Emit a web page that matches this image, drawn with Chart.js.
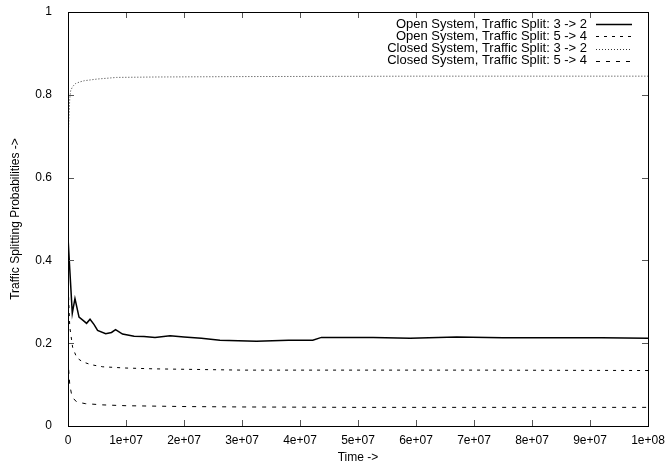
<!DOCTYPE html>
<html>
<head>
<meta charset="utf-8">
<script src="https://cdn.jsdelivr.net/npm/chart.js@4/dist/chart.umd.min.js"></script>
<style>
  body { margin: 0; background: #fff; }
  canvas { display: block; }
</style>
</head>
<body>
<canvas id="chart" width="667" height="465"></canvas>
<script>
"use strict";

// values (time, probability)
const openA_t = [0, 0.3e6, 0.74e6, 1.2e6, 1.9e6, 2.6e6, 3.2e6, 3.8e6, 4.5e6, 5.1e6, 6.5e6, 7.5e6, 8.2e6, 9.4e6, 1.14e7, 1.31e7, 1.5e7, 1.76e7, 2.0e7, 2.3e7, 2.62e7, 3.25e7, 3.8e7, 4.22e7, 4.37e7, 5.26e7, 5.9e7, 6.7e7, 7.5e7, 8.1e7, 9.2e7, 1e8];
const openA_v = [0.456, 0.38, 0.272, 0.308, 0.263, 0.255, 0.248, 0.258, 0.245, 0.231, 0.223, 0.226, 0.233, 0.222, 0.217, 0.216, 0.214, 0.218, 0.215, 0.212, 0.207, 0.205, 0.207, 0.207, 0.214, 0.214, 0.212, 0.215, 0.213, 0.213, 0.213, 0.212];

const openB_t = [0, 0.3e6, 0.8e6, 1.5e6, 2.5e6, 4e6, 6e6, 1e7, 1.5e7, 2e7, 3e7, 5e7, 7e7, 1e8];
const openB_v = [0.35, 0.24, 0.19, 0.165, 0.155, 0.148, 0.143, 0.140, 0.138, 0.137, 0.135, 0.135, 0.135, 0.134];

const closedA_t = [0, 0.15e6, 0.3e6, 0.46e6, 0.8e6, 1.3e6, 2e6, 2.8e6, 5e6, 8.4e6, 1.5e7, 3e7, 6e7, 1e8];
const closedA_v = [0.685, 0.74, 0.79, 0.81, 0.82, 0.827, 0.831, 0.834, 0.838, 0.842, 0.843, 0.844, 0.845, 0.845];

const closedB_t = [0, 0.3e6, 0.7e6, 1.5e6, 3e6, 6e6, 1e7, 2e7, 3e7, 5e7, 1e8];
const closedB_v = [0.16, 0.1, 0.07, 0.058, 0.054, 0.051, 0.049, 0.047, 0.046, 0.045, 0.045];

const seriesLabels = [
  "Open System, Traffic Split: 3 -> 2",
  "Open System, Traffic Split: 5 -> 4",
  "Closed System, Traffic Split: 3 -> 2",
  "Closed System, Traffic Split: 5 -> 4",
];

const xTicks = [0, 1e7, 2e7, 3e7, 4e7, 5e7, 6e7, 7e7, 8e7, 9e7, 1e8];
const yTicks = [0, 0.2, 0.4, 0.6, 0.8, 1];

const FONT = "'Liberation Sans', Arial, Helvetica, sans-serif";

const toPoints = (ts, vs) => ts.map((t, i) => ({ x: t, y: vs[i] }));

const fmtX = function (v) {
  if (v === 0) return "0";
  const e = Math.floor(Math.log10(v) + 1e-9);
  const m = Math.round(v / Math.pow(10, e));
  return m + "e+" + String(e).padStart(2, "0");
};

// gnuplot style frame with ticks pointing inward, on all four sides
const framePlugin = {
  id: "frame",
  afterDatasetsDraw(chart) {
    const { ctx, chartArea: a, scales } = chart;
    ctx.save();
    ctx.strokeStyle = "#555";
    ctx.lineWidth = 1;
    const len = 6;
    ctx.beginPath();
    xTicks.forEach((t) => {
      const px = Math.round(scales.x.getPixelForValue(t)) + 0.5;
      ctx.moveTo(px, a.bottom);
      ctx.lineTo(px, a.bottom - len);
      ctx.moveTo(px, a.top);
      ctx.lineTo(px, a.top + len);
    });
    yTicks.forEach((t) => {
      const py = Math.round(scales.y.getPixelForValue(t)) + 0.5;
      ctx.moveTo(a.left, py);
      ctx.lineTo(a.left + len, py);
      ctx.moveTo(a.right, py);
      ctx.lineTo(a.right - len, py);
    });
    ctx.stroke();
    ctx.strokeStyle = "#000";
    ctx.strokeRect(Math.round(a.left) + 0.5, Math.round(a.top) + 0.5,
      Math.round(a.right - a.left), Math.round(a.bottom - a.top));
    ctx.restore();
  },
  afterDraw(chart) {
    // key in the top right corner, text right aligned, sample to the right
    const { ctx, chartArea: a } = chart;
    ctx.save();
    ctx.font = "13px " + FONT;
    ctx.textAlign = "right";
    ctx.textBaseline = "middle";
    ctx.fillStyle = "#000";
    chart.data.datasets.forEach((ds, i) => {
      const y = a.top + 12 + i * 12.3;
      ctx.fillText(ds.label, a.right - 61, y);
      ctx.beginPath();
      ctx.strokeStyle = ds.borderColor;
      ctx.lineWidth = ds.borderWidth;
      ctx.setLineDash(ds.borderDash || []);
      ctx.moveTo(a.right - 52, Math.round(y) + 0.5);
      ctx.lineTo(a.right - 16, Math.round(y) + 0.5);
      ctx.stroke();
    });
    ctx.restore();
  },
};

const ctx = document.getElementById("chart").getContext("2d");
new Chart(ctx, {
  type: "line",
  data: {
    datasets: [
      {
        label: seriesLabels[0],
        data: toPoints(openA_t, openA_v),
        borderColor: "#000",
        borderWidth: 1.5,
      },
      {
        label: seriesLabels[1],
        data: toPoints(openB_t, openB_v),
        borderColor: "#000",
        borderWidth: 1,
        borderDash: [3, 5],
      },
      {
        label: seriesLabels[2],
        data: toPoints(closedA_t, closedA_v),
        borderColor: "#333",
        borderWidth: 1,
        borderDash: [1, 2],
      },
      {
        label: seriesLabels[3],
        data: toPoints(closedB_t, closedB_v),
        borderColor: "#000",
        borderWidth: 1,
        borderDash: [4, 6],
      },
    ],
  },
  options: {
    responsive: false,
    animation: false,
    elements: { point: { radius: 0 }, line: { tension: 0 } },
    layout: { padding: { left: 0, right: 19, top: 12, bottom: 0 } },
    plugins: { legend: { display: false }, tooltip: { enabled: false } },
    scales: {
      x: {
        type: "linear",
        min: 0,
        max: 1e8,
        afterFit: (s) => {
          s.height = 39;
          s.paddingLeft = 0;
          s.paddingRight = 0;
        },
        afterBuildTicks: (s) => { s.ticks = xTicks.map((v) => ({ value: v })); },
        grid: { display: false, drawTicks: false },
        border: { display: false },
        ticks: {
          padding: 7,
          maxRotation: 0,
          autoSkip: false,
          color: "#000",
          font: { family: FONT, size: 12 },
          callback: (v) => fmtX(v),
        },
        title: {
          display: true,
          text: "Time ->",
          color: "#000",
          padding: { top: 0, bottom: 0 },
          font: { family: FONT, size: 12 },
        },
      },
      y: {
        min: 0,
        max: 1,
        afterFit: (s) => {
          s.width = 68;
          s.paddingTop = 0;
          s.paddingBottom = 0;
        },
        afterBuildTicks: (s) => { s.ticks = yTicks.map((v) => ({ value: v })); },
        grid: { display: false, drawTicks: false },
        border: { display: false },
        ticks: {
          padding: 16,
          color: "#000",
          font: { family: FONT, size: 12 },
          callback: (v) => String(v),
        },
        title: {
          display: true,
          text: "Traffic Splitting Probabilities ->",
          color: "#000",
          padding: { top: 8, bottom: 0 },
          font: { family: FONT, size: 12 },
        },
      },
    },
  },
  plugins: [framePlugin],
});
</script>
</body>
</html>
